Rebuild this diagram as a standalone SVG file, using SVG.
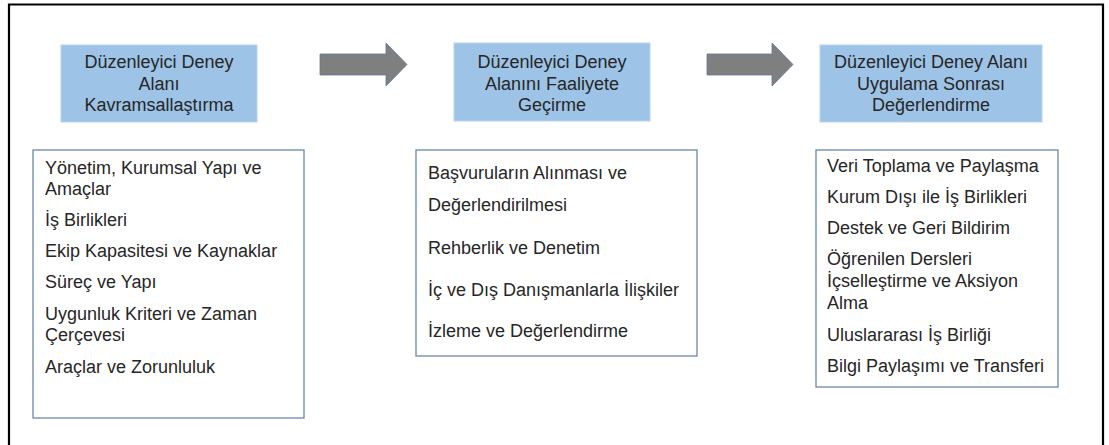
<svg xmlns="http://www.w3.org/2000/svg" width="1109" height="445" viewBox="0 0 1109 445">
  <style>
    .frame { fill: none; stroke: #000; stroke-width: 2.2; }
    .head { fill: #9dc3e6; stroke: #b9d3ec; stroke-width: 1; }
    .list { fill: #fff; stroke: #6a87ab; stroke-width: 1.3; }
    .arrow { fill: #7f7f7f; stroke: #5f7898; stroke-width: 0.8; }
    text { font-family: "Liberation Sans", Arial, sans-serif; font-size: 18px; fill: #262626; }
    .c { text-anchor: middle; }
  </style>

  <!-- outer border (open at the bottom edge) -->
  <path class="frame" d="M9,450 V4.5 H1103 V450"/>

  <!-- connectors between stages -->
  <g id="connectors">
    <path class="arrow" d="M320,54 H386 V43 L407,64.5 L386,86 V75 H320 Z"/>
    <path class="arrow" d="M707,54 H772 V43 L793,64.5 L772,86 V75 H707 Z"/>
  </g>

  <!-- stage 1 -->
  <g id="stage1">
    <rect class="head" x="61" y="45" width="196" height="77"/>
    <text class="c" x="159" y="68">Düzenleyici Deney</text>
    <text class="c" x="159" y="90">Alanı</text>
    <text class="c" x="159" y="111">Kavramsallaştırma</text>
  </g>
  <g id="stage1-items">
    <rect class="list" x="33" y="150" width="271" height="268"/>
    <text x="45" y="174">Yönetim, Kurumsal Yapı ve</text>
    <text x="45" y="195">Amaçlar</text>
    <text x="45" y="226">İş Birlikleri</text>
    <text x="45" y="257">Ekip Kapasitesi ve Kaynaklar</text>
    <text x="45" y="288">Süreç ve Yapı</text>
    <text x="45" y="320">Uygunluk Kriteri ve Zaman</text>
    <text x="45" y="341">Çerçevesi</text>
    <text x="45" y="373">Araçlar ve Zorunluluk</text>
  </g>

  <!-- stage 2 -->
  <g id="stage2">
    <rect class="head" x="454" y="43" width="196" height="78"/>
    <text class="c" x="552" y="68">Düzenleyici Deney</text>
    <text class="c" x="552" y="90">Alanını Faaliyete</text>
    <text class="c" x="552" y="111">Geçirme</text>
  </g>
  <g id="stage2-items">
    <rect class="list" x="416" y="150" width="281" height="206"/>
    <text x="428" y="179">Başvuruların Alınması ve</text>
    <text x="428" y="211">Değerlendirilmesi</text>
    <text x="428" y="254">Rehberlik ve Denetim</text>
    <text x="428" y="296">İç ve Dış Danışmanlarla İlişkiler</text>
    <text x="428" y="337">İzleme ve Değerlendirme</text>
  </g>

  <!-- stage 3 -->
  <g id="stage3">
    <rect class="head" x="820" y="45" width="222" height="77"/>
    <text class="c" x="931" y="68">Düzenleyici Deney Alanı</text>
    <text class="c" x="931" y="90">Uygulama Sonrası</text>
    <text class="c" x="931" y="111">Değerlendirme</text>
  </g>
  <g id="stage3-items">
    <rect class="list" x="816" y="150" width="242" height="237"/>
    <text x="827" y="172">Veri Toplama ve Paylaşma</text>
    <text x="827" y="203">Kurum Dışı ile İş Birlikleri</text>
    <text x="827" y="234">Destek ve Geri Bildirim</text>
    <text x="827" y="265">Öğrenilen Dersleri</text>
    <text x="827" y="287">İçselleştirme ve Aksiyon</text>
    <text x="827" y="309">Alma</text>
    <text x="827" y="341">Uluslararası İş Birliği</text>
    <text x="827" y="372">Bilgi Paylaşımı ve Transferi</text>
  </g>
</svg>
